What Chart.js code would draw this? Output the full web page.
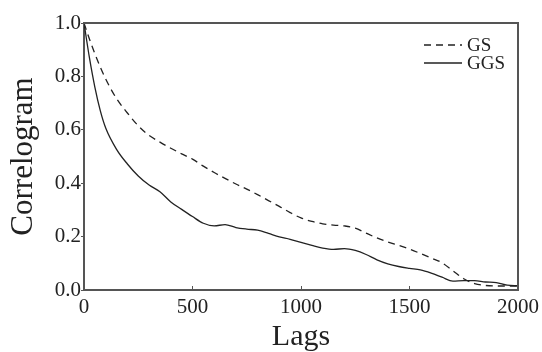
<!DOCTYPE html>
<html>
<head>
<meta charset="utf-8">
<script src="https://cdn.jsdelivr.net/npm/chart.js@4/dist/chart.umd.min.js"></script>
<style>
  html, body { margin: 0; padding: 0; background: #fff; }
  #wrap { width: 542px; height: 352px; }
</style>
</head>
<body>
<div id="wrap"><canvas id="corr"></canvas></div>
<script>
// Lags (x axis)
const lags = [0, 25, 50, 75, 100, 150, 200, 250, 300, 350, 400, 450, 500, 550, 600, 650, 700, 750, 800,
  850, 900, 950, 1000, 1050, 1100, 1150, 1200, 1250, 1300, 1350, 1400, 1450, 1500, 1550, 1600,
  1650, 1700, 1750, 1800, 1850, 1900, 1950, 2000];

// GS (dashed)
const gsValues = [1.0, 0.94, 0.885, 0.835, 0.79, 0.717, 0.663, 0.615, 0.579, 0.554, 0.531, 0.51, 0.49, 0.464, 0.44,
  0.418, 0.397, 0.378, 0.357, 0.335, 0.313, 0.29, 0.27, 0.257, 0.248, 0.243, 0.24, 0.232, 0.213,
  0.195, 0.18, 0.167, 0.153, 0.137, 0.12, 0.102, 0.072, 0.042, 0.024, 0.017, 0.015, 0.015, 0.015];

// GGS (solid)
const ggsValues = [1.0, 0.87, 0.76, 0.672, 0.607, 0.527, 0.472, 0.427, 0.393, 0.368, 0.33, 0.302, 0.275, 0.25, 0.24,
  0.245, 0.234, 0.228, 0.224, 0.212, 0.199, 0.19, 0.178, 0.167, 0.157, 0.152, 0.155, 0.148, 0.133,
  0.113, 0.098, 0.088, 0.081, 0.075, 0.063, 0.048, 0.033, 0.035, 0.035, 0.03, 0.028, 0.018, 0.016];

const seriesNames = ['GS', 'GGS'];
const xTicks = [0, 500, 1000, 1500, 2000];
const yTicks = [0.0, 0.2, 0.4, 0.6, 0.8, 1.0];

const serif = '"Liberation Serif", "Times New Roman", Times, serif';
const ink = '#222';
const axisGrey = '#555';

function toPoints(values) {
  return lags.map((lag, i) => ({ x: lag, y: values[i] }));
}

// frame on top/right + legend inside plot
const framePlugin = {
  id: 'frameAndLegend',
  afterDraw(chart) {
    const { ctx, chartArea: a } = chart;
    ctx.save();
    ctx.strokeStyle = axisGrey;
    ctx.lineWidth = 2;
    ctx.beginPath();
    ctx.moveTo(a.left, a.top);
    ctx.lineTo(a.right, a.top);
    ctx.lineTo(a.right, a.bottom);
    ctx.stroke();

    // legend
    const rows = [45, 63];
    chart.data.datasets.forEach((ds, i) => {
      const y = rows[i];
      ctx.beginPath();
      ctx.setLineDash(ds.borderDash || []);
      ctx.strokeStyle = ds.borderColor;
      ctx.lineWidth = ds.borderWidth;
      ctx.moveTo(424, y);
      ctx.lineTo(462, y);
      ctx.stroke();
      ctx.setLineDash([]);
      ctx.fillStyle = ink;
      ctx.font = '19px ' + serif;
      ctx.textBaseline = 'middle';
      ctx.textAlign = 'left';
      ctx.fillText(ds.label, 467, y + 1);
    });
    ctx.restore();
  }
};

document.addEventListener('DOMContentLoaded', () => {
  new Chart(document.getElementById('corr'), {
    type: 'line',
    data: {
      datasets: [
        {
          label: seriesNames[0],
          data: toPoints(gsValues),
          borderColor: ink,
          borderWidth: 1.3,
          borderDash: [7, 5],
          pointRadius: 0,
          cubicInterpolationMode: 'monotone',
          fill: false
        },
        {
          label: seriesNames[1],
          data: toPoints(ggsValues),
          borderColor: ink,
          borderWidth: 1.3,
          pointRadius: 0,
          cubicInterpolationMode: 'monotone',
          fill: false
        }
      ]
    },
    options: {
      responsive: true,
      maintainAspectRatio: false,
      animation: false,
      layout: { padding: { left: 0, top: 23, right: 24, bottom: 0 } },
      plugins: {
        legend: { display: false },
        tooltip: { enabled: false }
      },
      scales: {
        x: {
          type: 'linear',
          min: 0,
          max: 2000,
          afterFit: scale => {
            scale.height = 62;
            scale.paddingLeft = 0;
            scale.paddingRight = 0;
          },
          afterBuildTicks: scale => { scale.ticks = xTicks.map(v => ({ value: v })); },
          grid: { drawOnChartArea: false, tickLength: -4, color: axisGrey, tickWidth: 1 },
          border: { color: axisGrey, width: 2 },
          ticks: {
            color: ink,
            padding: 9,
            maxRotation: 0,
            font: { family: serif, size: 21 },
            callback: v => String(v)
          },
          title: {
            display: true,
            text: 'Lags',
            color: ink,
            padding: 0,
            font: { family: serif, size: 30, lineHeight: 1 }
          }
        },
        y: {
          min: 0,
          max: 1,
          afterFit: scale => {
            scale.width = 84;
            scale.paddingTop = 0;
            scale.paddingBottom = 0;
          },
          afterBuildTicks: scale => { scale.ticks = yTicks.map(v => ({ value: v })); },
          grid: { drawOnChartArea: false, tickLength: 3, color: axisGrey, tickWidth: 1 },
          border: { color: axisGrey, width: 2 },
          ticks: {
            color: ink,
            padding: 0,
            font: { family: serif, size: 21 },
            callback: v => v.toFixed(1)
          },
          title: {
            display: true,
            text: 'Correlogram',
            color: ink,
            padding: { top: 8, bottom: 0 },
            font: { family: serif, size: 31, lineHeight: 1 }
          }
        }
      }
    },
    plugins: [framePlugin]
  });
});
</script>
</body>
</html>
